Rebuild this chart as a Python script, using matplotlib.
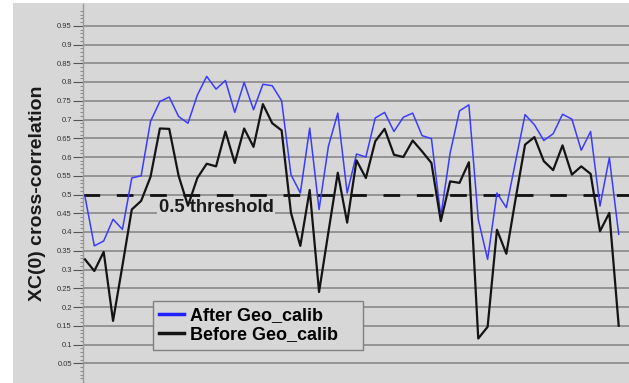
import matplotlib
matplotlib.use("Agg")
import matplotlib.pyplot as plt
from matplotlib.patches import Rectangle
from matplotlib.lines import Line2D
import numpy as np

# ---------------------- data ----------------------
after_calib = [0.495, 0.363, 0.376, 0.434, 0.407, 0.544, 0.55, 0.695, 0.748, 0.76,
               0.708, 0.69, 0.765, 0.815, 0.781, 0.804, 0.719, 0.799, 0.726, 0.794,
               0.79, 0.75, 0.553, 0.504, 0.677, 0.46, 0.629, 0.717, 0.504, 0.608,
               0.6, 0.704, 0.719, 0.668, 0.706, 0.717, 0.657, 0.649, 0.442, 0.611,
               0.723, 0.739, 0.434, 0.327, 0.504, 0.465, 0.59, 0.713, 0.686, 0.644,
               0.662, 0.714, 0.701, 0.618, 0.668, 0.469, 0.598, 0.394]
before_calib = [0.327, 0.296, 0.347, 0.163, 0.31, 0.46, 0.483, 0.547, 0.676, 0.675,
                0.55, 0.47, 0.544, 0.582, 0.575, 0.668, 0.584, 0.676, 0.627, 0.741,
                0.69, 0.671, 0.451, 0.363, 0.512, 0.24, 0.40, 0.558, 0.425, 0.591,
                0.544, 0.642, 0.675, 0.606, 0.6, 0.644, 0.615, 0.584, 0.429, 0.535,
                0.531, 0.586, 0.116, 0.147, 0.406, 0.342, 0.49, 0.633, 0.653, 0.589,
                0.565, 0.631, 0.553, 0.575, 0.555, 0.402, 0.451, 0.15]
threshold = 0.5
y_ticks = [0.05, 0.1, 0.15, 0.2, 0.25, 0.3, 0.35, 0.4, 0.45, 0.5,
           0.55, 0.6, 0.65, 0.7, 0.75, 0.8, 0.85, 0.9, 0.95]
y_labels = ["0.05", "0.1", "0.15", "0.2", "0.25", "0.3", "0.35", "0.4", "0.45", "0.5",
            "0.55", "0.6", "0.65", "0.7", "0.75", "0.8", "0.85", "0.9", "0.95"]

BG = "#d7d7d7"
W, H = 629, 383
AX_W, AX_H = W - 83, 378

plt.rcParams["font.family"] = ["Liberation Sans", "DejaVu Sans"]

fig = plt.figure(figsize=(W / 100, H / 100), dpi=100, facecolor="white")
# grey panel behind everything (white strip on the left and top)
fig.patches.append(Rectangle((13 / W, 0), 1 - 13 / W, 1 - 3 / H, transform=fig.transFigure,
                             facecolor=BG, edgecolor="none", zorder=-10))

ax = fig.add_axes([83 / W, 1 / H, AX_W / W, AX_H / H])
ax.set_facecolor(BG)

x = np.arange(len(after_calib))
ax.plot(x, after_calib, color="#3b3bff", linewidth=1.1, zorder=3)
ax.plot(x, before_calib, color="#141414", linewidth=1.6, zorder=4)
ax.axhline(threshold, color="#111111", linewidth=2, linestyle=(0, (6, 6)), zorder=2)

ax.text(7.9, 0.464, "0.5 threshold", fontsize=13.3, fontweight="bold", color="#1a1a1a",
        ha="left", va="center", zorder=2.5,
        bbox=dict(facecolor=BG, edgecolor="none", pad=1))

ax.set_xlim(-0.21, 58.1)
ax.set_ylim(0, 1.008)
ax.set_xticks([])
ax.set_yticks(y_ticks)
ax.set_yticklabels(y_labels, fontsize=5.5, color="#333333")
ax.set_yticks(np.arange(0.01, 1.0, 0.01), minor=True)
ax.tick_params(axis="y", which="major", length=7, width=0.8, color="#555555", pad=1)
ax.tick_params(axis="y", which="minor", length=2, width=0.5, color="#666666")
ax.grid(axis="y", which="major", color="#8e8e8e", linewidth=1.3, zorder=1)
ax.set_axisbelow(True)
for s in ["top", "right", "bottom"]:
    ax.spines[s].set_visible(False)
ax.spines["left"].set_color("#9a9a9a")
ax.spines["left"].set_linewidth(1)

ax.set_ylabel("XC(0) cross-correlation", fontsize=14, fontweight="bold", color="#1a1a1a")
ax.yaxis.set_label_coords(-37 / AX_W, 0.5)

# legend box drawn by hand (the original has extra room on the right)
ax.add_patch(Rectangle(((153 - 83) / AX_W, (382 - 350) / AX_H), 210 / AX_W, 49 / AX_H,
                       transform=ax.transAxes, facecolor=BG, edgecolor="#808080",
                       linewidth=1, zorder=5))
handles = [Line2D([], [], color="#2020ff", linewidth=2.5),
           Line2D([], [], color="#141414", linewidth=2.5)]
leg = ax.legend(handles, ["After Geo_calib", "Before Geo_calib"],
                loc="upper left", bbox_to_anchor=((159 - 83) / AX_W, (382 - 307) / AX_H),
                borderaxespad=0, borderpad=0, frameon=False,
                prop=dict(size=13, weight="bold"), handlelength=1.4, handletextpad=0.3,
                labelspacing=0.14)
leg.set_zorder(6)

fig.savefig("out.png", dpi=100, facecolor=fig.get_facecolor())
